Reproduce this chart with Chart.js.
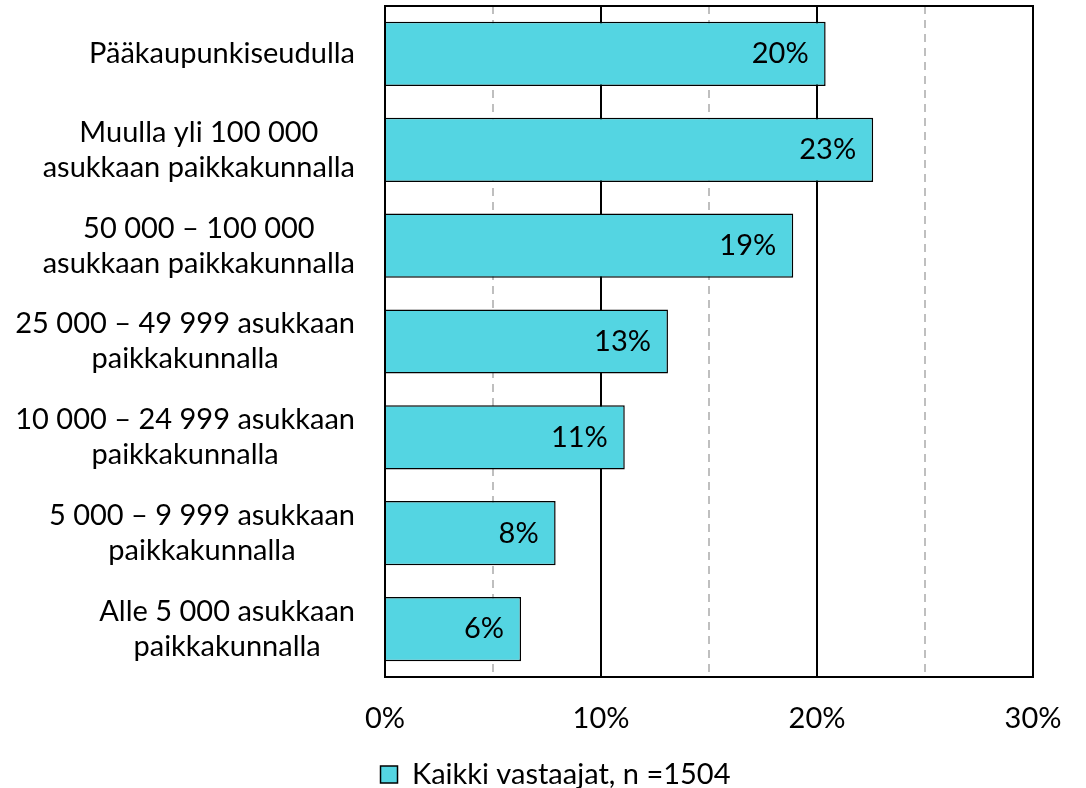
<!DOCTYPE html>
<html><head><meta charset="utf-8">
<script src="https://cdn.jsdelivr.net/npm/chart.js@4.4.1/dist/chart.umd.min.js"></script>
<style>html,body{margin:0;padding:0;background:#fff}#wrap{width:1086px;height:788px}</style>
</head><body><div id="wrap"><canvas id="c" width="1086" height="788"></canvas></div>
<script>
const categories = [
  ['Pääkaupunkiseudulla'],
  ['Muulla yli 100 000', 'asukkaan paikkakunnalla'],
  ['50 000 – 100 000', 'asukkaan paikkakunnalla'],
  ['25 000 – 49 999 asukkaan', 'paikkakunnalla'],
  ['10 000 – 24 999 asukkaan', 'paikkakunnalla'],
  ['5 000 – 9 999 asukkaan', 'paikkakunnalla'],
  ['Alle 5 000 asukkaan', 'paikkakunnalla']
];
const values = [20.4, 22.6, 18.9, 13.1, 11.1, 7.9, 6.3];
const valueLabels = ['20%', '23%', '19%', '13%', '11%', '8%', '6%'];
const seriesName = 'Kaikki vastaajat, n =1504';
const majorTicks = [0, 10, 20, 30];
const minorTicks = [5, 15, 25];

const FONT = 'Lato';
const FS = 29;
const LABEL_RIGHT = 355;
const LINE_H = 35;

const yLabelPlugin = {
  id: 'yLabels',
  afterDraw(chart) {
    const ctx = chart.ctx, y = chart.scales.y;
    ctx.save();
    ctx.font = FS + 'px ' + FONT;
    ctx.fillStyle = '#000';
    ctx.textAlign = 'center';
    ctx.textBaseline = 'middle';
    categories.forEach((lines, i) => {
      const cy = y.getPixelForValue(i);
      const maxW = Math.max(...lines.map(l => ctx.measureText(l).width));
      const cx = LABEL_RIGHT - maxW / 2;
      const top = cy - (lines.length - 1) * LINE_H / 2;
      lines.forEach((l, k) => ctx.fillText(l, cx, top + k * LINE_H));
    });
    ctx.restore();
  }
};
const valuePlugin = {
  id: 'vals',
  afterDatasetsDraw(chart) {
    const ctx = chart.ctx;
    const meta = chart.getDatasetMeta(0);
    ctx.save();
    ctx.font = FS + 'px ' + FONT;
    ctx.fillStyle = '#000';
    ctx.textAlign = 'right';
    ctx.textBaseline = 'middle';
    meta.data.forEach((bar, i) => ctx.fillText(valueLabels[i], bar.x - 17, bar.y));
    ctx.restore();
  }
};
const framePlugin = {
  id: 'frame',
  afterDatasetsDraw(chart) {
    const a = chart.chartArea, ctx = chart.ctx;
    ctx.save();
    ctx.strokeStyle = '#000';
    ctx.lineWidth = 2;
    ctx.strokeRect(a.left, a.top, a.right - a.left, a.bottom - a.top);
    ctx.restore();
  }
};
const legendShift = {
  id: 'legendShift',
  afterLayout(chart) {
    if (chart.legend) { chart.legend.top += 11; chart.legend.bottom += 11; }
  }
};

new Chart(document.getElementById('c'), {
  type: 'bar',
  data: {
    labels: categories,
    datasets: [{
      label: seriesName,
      data: values,
      backgroundColor: '#54D5E2',
      borderColor: '#000',
      borderWidth: 1.5,
      categoryPercentage: 0.67,
      barPercentage: 1.0
    }]
  },
  options: {
    indexAxis: 'y',
    responsive: false,
    animation: false,
    layout: { padding: { left: 78, right: 53, top: 6, bottom: 0 } },
    scales: {
      x: {
        min: 0, max: 30,
        afterBuildTicks: s => { s.ticks = majorTicks.map(v => ({ value: v })); },
        ticks: { callback: v => v + '%', color: '#000', font: { family: FONT, size: FS }, padding: 24 },
        grid: { color: '#000', lineWidth: 2, drawTicks: false },
        border: { color: '#000', width: 2 },
        afterFit: s => { s.height = 70; }
      },
      x2: {
        position: 'top',
        min: 0, max: 30,
        afterBuildTicks: s => { s.ticks = minorTicks.map(v => ({ value: v })); },
        ticks: { display: false },
        grid: { color: '#BFBFBF', lineWidth: 2, drawTicks: false },
        border: { display: false, dash: [8, 6] },
        afterFit: s => { s.height = 0; }
      },
      y: {
        ticks: { display: false },
        grid: { display: false },
        border: { color: '#000', width: 2 },
        afterFit: s => { s.width = 307; }
      }
    },
    plugins: {
      legend: {
        position: 'bottom',
        labels: {
          color: '#000',
          font: { family: FONT, size: FS },
          boxWidth: 17, boxHeight: 17,
          padding: 2,
          generateLabels: chart => [{
            text: seriesName, fillStyle: '#54D5E2', strokeStyle: '#000', lineWidth: 1.5, datasetIndex: 0
          }]
        }
      },
      tooltip: { enabled: false }
    }
  },
  plugins: [yLabelPlugin, valuePlugin, framePlugin, legendShift]
});
</script></body></html>
